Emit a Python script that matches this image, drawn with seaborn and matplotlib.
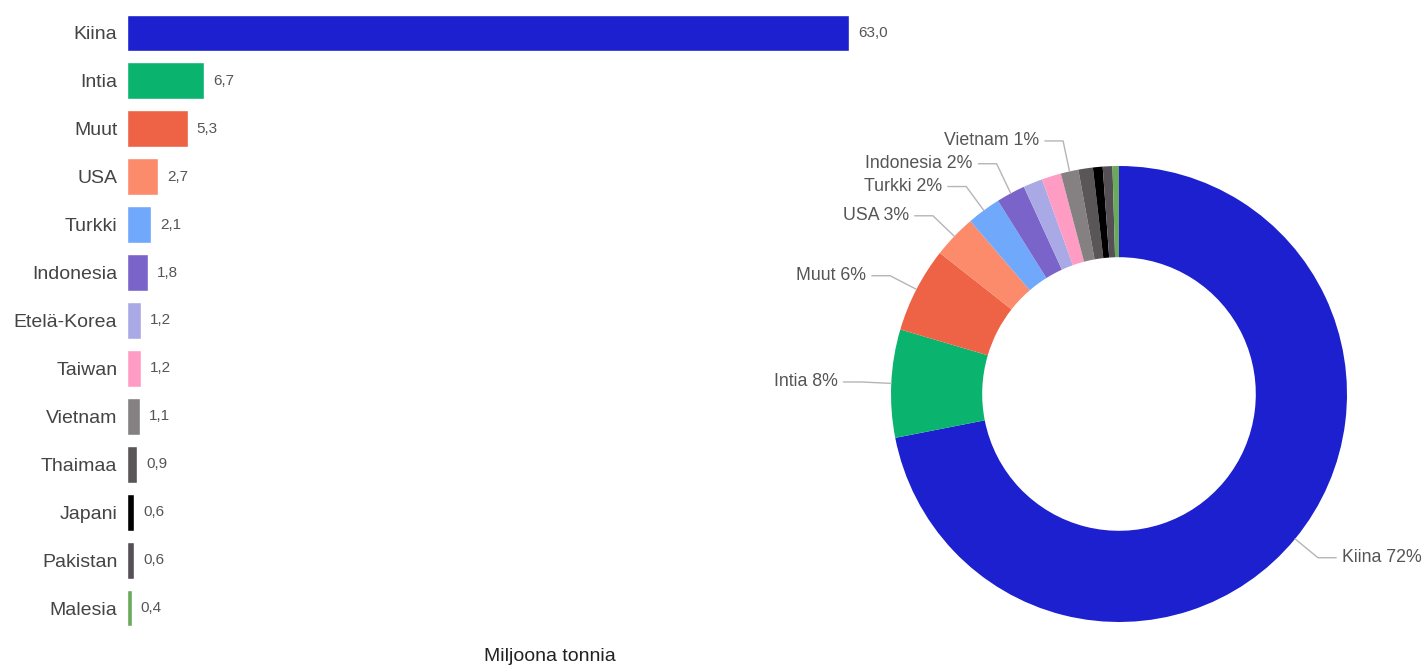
import numpy as np
import matplotlib
matplotlib.use("Agg")
from matplotlib import pyplot as plt
import seaborn as sns

# data
countries = ['Kiina', 'Intia', 'Muut', 'USA', 'Turkki', 'Indonesia', 'Etelä-Korea',
             'Taiwan', 'Vietnam', 'Thaimaa', 'Japani', 'Pakistan', 'Malesia']
tonnes = [63.0, 6.7, 5.3, 2.7, 2.1, 1.8, 1.2, 1.2, 1.1, 0.9, 0.6, 0.6, 0.4]
colors = ['#1c20cf', '#0bb46e', '#ee6245', '#fc8b6c', '#70a8fc', '#7b64c9', '#a9a9e6',
          '#ff9cc4', '#858182', '#5a5557', '#000000', '#555055', '#6aaa5a']
pie_labelled = ['Kiina', 'Intia', 'Muut', 'USA', 'Turkki', 'Indonesia', 'Vietnam']
x_title = 'Miljoona tonnia'

sns.set_style('white')
plt.rcParams['font.family'] = ['Liberation Sans', 'DejaVu Sans']

fig = plt.figure(figsize=(14.22, 6.65), dpi=100)
W, H = 1422, 665

# pylväät
ax = fig.add_axes([127 / W, 1 - 632 / H, (973 - 127) / W, (632 - 9) / H])
sns.barplot(x=tonnes, y=countries, hue=countries, palette=colors, legend=False,
            orient='h', width=0.77, saturation=1, ax=ax)
ax.set_xlim(0, 73.8)
ax.set_ylim(12.5, -0.5)
ax.set_xticks([])
for s in ax.spines.values():
    s.set_visible(False)
ax.tick_params(axis='y', length=0, pad=7, labelsize=14, labelcolor='#444444')
ax.set_ylabel('')
ax.set_xlabel(x_title, fontsize=14, color='#222222', labelpad=11.5)
for cont in ax.containers:
    ax.bar_label(cont, labels=[f'{v:.1f}'.replace('.', ',') for v in cont.datavalues],
                 padding=6.5, fontsize=11, color='#555555')

# donitsi
ax2 = fig.add_axes([891 / W, 1 - 622 / H, 456 / W, 456 / H])
wedges, _ = ax2.pie(tonnes, colors=colors, startangle=90, counterclock=False,
                    wedgeprops=dict(width=0.4, edgecolor='none'))
ax2.set_xlim(-1, 1)
ax2.set_ylim(-1, 1)
ax2.set_aspect('equal')
ax2.axis('off')

total = sum(tonnes)
prev_y = None
for w, name, val in zip(wedges, countries, tonnes):
    if name not in pie_labelled:
        continue
    ang = np.deg2rad((w.theta1 + w.theta2) / 2)
    dx, dy = np.cos(ang), np.sin(ang)
    sign = 1 if dx >= 0 else -1
    x1, y1 = dx * 1.0, dy * 1.0
    x2, y2 = dx * 1.13, dy * 1.13
    # keep labels on the left side apart (min gap)
    if sign < 0 and prev_y is not None and y2 - prev_y < 0.1:
        prev_y, y2 = y2, prev_y + 0.1
    ly = y2
    if sign < 0:
        prev_y = ly
    x3 = x2 + sign * 0.08
    ax2.plot([x1, x2, x3], [y1, ly, ly], color='#b5b5b5', lw=1, clip_on=False)
    ax2.text(x3 + sign * 0.025, ly, f'{name} {round(val / total * 100):.0f}%',
             ha='left' if sign > 0 else 'right', va='center',
             fontsize=12.8, color='#555555', clip_on=False)

plt.savefig('out.png', dpi=100)
